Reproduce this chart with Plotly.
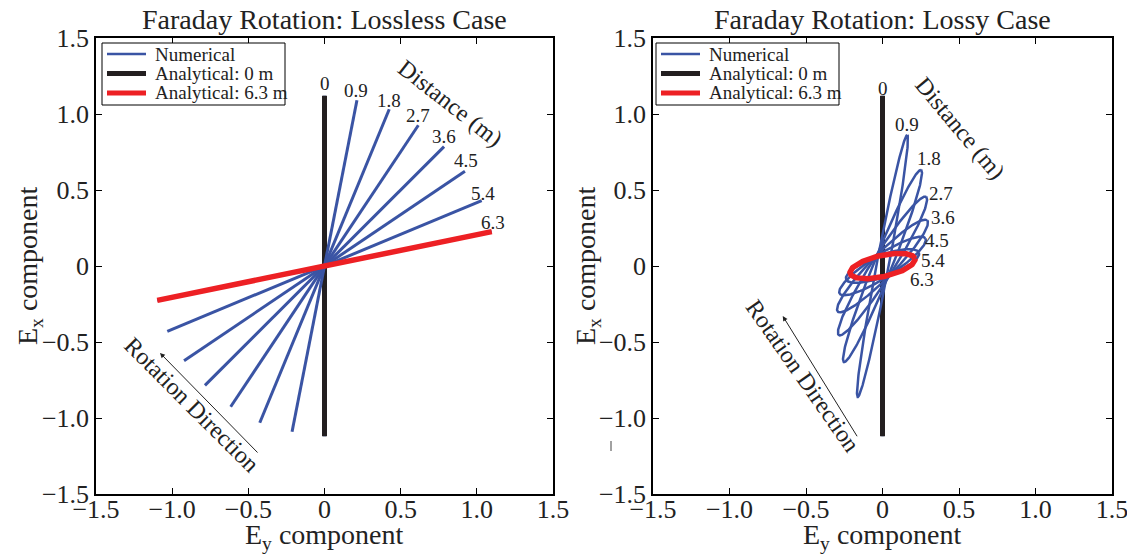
import numpy as np
import plotly.graph_objects as go

# ---------------- data ----------------
distances = [0, 0.9, 1.8, 2.7, 3.6, 4.5, 5.4, 6.3]
dist_labels = ["0", "0.9", "1.8", "2.7", "3.6", "4.5", "5.4", "6.3"]

# Lossless case: tip of each linear polarisation segment (Ey, Ex); segment is symmetric about origin
lossless_tip_ey = [0.0, 0.213, 0.425, 0.616, 0.785, 0.922, 1.032, 1.098]
lossless_tip_ex = [1.12, 1.09, 1.031, 0.926, 0.785, 0.623, 0.43, 0.226]

# Analytical curves
analytic0_tip = (0.0, 1.12)          # 0 m (both panels)
analytic63_lossless_tip = (1.098, 0.226)
analytic63_lossy_tip = (0.212, 0.048)
analytic63_lossy_minor = 0.07

# Lossy case: polarisation ellipses: major-axis tip (Ey, Ex) and semi-minor axis
lossy_tip_ey = [0.0, 0.162, 0.252, 0.285, 0.292, 0.28, 0.238, 0.212]
lossy_tip_ex = [1.12, 0.862, 0.632, 0.455, 0.30, 0.182, 0.088, 0.048]
lossy_minor = [0.0, 0.04, 0.06, 0.072, 0.077, 0.076, 0.072, 0.07]

# label positions (data coords)
lossless_lab_x = [0.0, 0.207, 0.424, 0.614, 0.785, 0.929, 1.04, 1.107]
lossless_lab_y = [1.20, 1.155, 1.09, 0.987, 0.849, 0.697, 0.48, 0.283]
lossy_lab_x = [0.0, 0.160, 0.304, 0.384, 0.397, 0.356, 0.330, 0.258]
lossy_lab_y = [1.17, 0.928, 0.704, 0.48, 0.322, 0.171, 0.033, -0.092]

legend_names = ["Numerical", "Analytical: 0 m", "Analytical: 6.3 m"]

tick_vals = [-1.5, -1.0, -0.5, 0, 0.5, 1.0, 1.5]
tick_text = ["\u22121.5", "\u22121.0", "\u22120.5", "0", "0.5", "1.0", "1.5"]

BLUE = "#3a54a4"
BLACK = "#231f20"
RED = "#ed2024"
TXT = "#222"
FONT = "Liberation Serif"


def segment(tip):
    return [-tip[0], tip[0]], [-tip[1], tip[1]]


def ellipse(tx, ty, b, n=241):
    t = np.linspace(0, 2 * np.pi, n)
    a = np.hypot(tx, ty)
    nx, ny = -ty / a, tx / a
    return tx * np.cos(t) + b * nx * np.sin(t), ty * np.cos(t) + b * ny * np.sin(t)


def numerical_paths(tips_x, tips_y, minors):
    xs, ys = [], []
    for tx, ty, b in zip(tips_x, tips_y, minors):
        if b == 0:
            xs += [-tx, tx, None]
            ys += [-ty, ty, None]
        else:
            ex_, ey_ = ellipse(tx, ty, b)
            xs += list(ex_) + [None]
            ys += list(ey_) + [None]
    return xs, ys


fig = go.Figure()
x0, y0 = segment(analytic0_tip)

panels = [
    ("x", "y", lossless_tip_ey, lossless_tip_ex, [0.0] * len(distances), 3.0,
     segment(analytic63_lossless_tip)),
    ("x2", "y2", lossy_tip_ey, lossy_tip_ex, lossy_minor, 2.5,
     ellipse(analytic63_lossy_tip[0], analytic63_lossy_tip[1], analytic63_lossy_minor)),
]
for xa, ya, tips_x, tips_y, minors, bw, red_xy in panels:
    # numerical at 0 m (hidden under the analytical 0 m line)
    nx0, ny0 = numerical_paths(tips_x[:1], tips_y[:1], minors[:1])
    fig.add_trace(go.Scatter(x=nx0, y=ny0, mode="lines", line=dict(color=BLUE, width=bw),
                             name=legend_names[0], xaxis=xa, yaxis=ya))
    fig.add_trace(go.Scatter(x=x0, y=y0, mode="lines", line=dict(color=BLACK, width=5),
                             name=legend_names[1], xaxis=xa, yaxis=ya))
    nx, ny = numerical_paths(tips_x[1:], tips_y[1:], minors[1:])
    fig.add_trace(go.Scatter(x=nx, y=ny, mode="lines", line=dict(color=BLUE, width=bw),
                             name=legend_names[0], xaxis=xa, yaxis=ya))
    fig.add_trace(go.Scatter(x=list(red_xy[0]), y=list(red_xy[1]), mode="lines",
                             line=dict(color=RED, width=5.5),
                             name=legend_names[2], xaxis=xa, yaxis=ya))

W, H = 1127, 554


def px(x):
    return x / W


def py(y):
    return 1 - y / H


dom_l = [px(96), px(553)]
dom_r = [px(653), px(1112)]
dom_y = [py(494), py(38)]

axis_common = dict(range=[-1.5, 1.5], tickvals=tick_vals, ticktext=tick_text,
                   showgrid=False, zeroline=False, showline=True, mirror="allticks",
                   linecolor="black", linewidth=1.5, ticks="inside", ticklen=6,
                   tickcolor="black", tickwidth=1, automargin=False,
                   ticklabeloverflow="allow",
                   tickfont=dict(family=FONT, size=26, color=TXT))
xaxis_extra = dict(ticklabelstandoff=-9)

annotations = []
shapes = []
# titles
for dom, txt in [(dom_l, "Faraday Rotation: Lossless Case"), (dom_r, "Faraday Rotation: Lossy Case")]:
    annotations.append(dict(xref="paper", yref="paper", x=(dom[0] + dom[1]) / 2, y=py(19),
                            text=txt, showarrow=False, xanchor="center", yanchor="middle",
                            font=dict(family=FONT, size=28, color=TXT)))
    annotations.append(dict(xref="paper", yref="paper", x=(dom[0] + dom[1]) / 2, y=py(536),
                            text="E<sub>y</sub> component", showarrow=False, xanchor="center",
                            yanchor="middle", font=dict(family=FONT, size=28, color=TXT)))
for xp in [30, 588]:
    annotations.append(dict(xref="paper", yref="paper", x=px(xp), y=py(266),
                            text="E<sub>x</sub> component", showarrow=False, textangle=-90,
                            xanchor="center", yanchor="middle",
                            font=dict(family=FONT, size=28, color=TXT)))

# hand-drawn legends (box, line samples, text)
legend_colors = [BLUE, BLACK, RED]
legend_widths = [2.5, 5, 5]
for lx in [102, 656]:
    shapes.append(dict(type="rect", xref="paper", yref="paper", x0=px(lx), x1=px(lx + 183),
                       y0=py(43), y1=py(105), line=dict(color="black", width=1),
                       fillcolor="white", layer="above"))
    for i, (nm, col, wd) in enumerate(zip(legend_names, legend_colors, legend_widths)):
        yy = 54 + i * 19.5
        shapes.append(dict(type="line", xref="paper", yref="paper", x0=px(lx + 5), x1=px(lx + 44),
                           y0=py(yy), y1=py(yy), line=dict(color=col, width=wd), layer="above"))
        annotations.append(dict(xref="paper", yref="paper", x=px(lx + 51), y=py(yy), text=nm,
                                showarrow=False, xanchor="left", yanchor="middle",
                                font=dict(family=FONT, size=19, color=TXT)))

# distance labels
for lab, lx, ly in zip(dist_labels, lossless_lab_x, lossless_lab_y):
    annotations.append(dict(xref="x", yref="y", x=lx, y=ly, text=lab, showarrow=False,
                            font=dict(family=FONT, size=19, color=TXT)))
for lab, lx, ly in zip(dist_labels, lossy_lab_x, lossy_lab_y):
    annotations.append(dict(xref="x2", yref="y2", x=lx, y=ly, text=lab, showarrow=False,
                            font=dict(family=FONT, size=19, color=TXT)))

# Distance (m) / Rotation Direction labels
annotations += [
    dict(xref="x", yref="y", x=0.824, y=1.072, text="Distance (m)", textangle=38,
         showarrow=False, font=dict(family=FONT, size=24, color=TXT)),
    dict(xref="x", yref="y", x=-0.87, y=-0.914, text="Rotation Direction", textangle=45,
         showarrow=False, font=dict(family=FONT, size=24, color=TXT)),
    dict(xref="x2", yref="y2", x=0.507, y=0.908, text="Distance (m)", textangle=50,
         showarrow=False, font=dict(family=FONT, size=24, color=TXT)),
    dict(xref="x2", yref="y2", x=-0.52, y=-0.724, text="Rotation Direction", textangle=55,
         showarrow=False, font=dict(family=FONT, size=24, color=TXT)),
]

# arrows (Rotation Direction)
for xr_, yr_, hx, hy, tx_, ty_ in [("x", "y", -1.08, -0.572, -0.43, -1.237),
                                    ("x2", "y2", -0.652, -0.329, -0.16, -1.13)]:
    annotations.append(dict(xref=xr_, yref=yr_, axref=xr_, ayref=yr_, x=hx, y=hy, ax=tx_, ay=ty_,
                            text="", showarrow=True, arrowhead=2, arrowsize=1, arrowwidth=1,
                            arrowcolor=TXT))

# stray tick mark in the reference
shapes.append(dict(type="line", xref="paper", yref="paper", x0=px(611), x1=px(611),
                   y0=py(441), y1=py(451), line=dict(color="#444", width=1)))

fig.update_layout(
    width=W, height=H, margin=dict(l=0, r=0, t=0, b=0, pad=0, autoexpand=False), autosize=False,
    paper_bgcolor="white", plot_bgcolor="white",
    xaxis=dict(domain=dom_l, anchor="y", **axis_common, **xaxis_extra),
    yaxis=dict(domain=dom_y, anchor="x", **axis_common),
    xaxis2=dict(domain=dom_r, anchor="y2", **axis_common, **xaxis_extra),
    yaxis2=dict(domain=dom_y, anchor="x2", **axis_common),
    annotations=annotations,
    shapes=shapes,
    showlegend=False,
)

fig.write_html("out.html",
               post_script="document.body.style.margin='0';document.body.style.overflow='hidden';")
